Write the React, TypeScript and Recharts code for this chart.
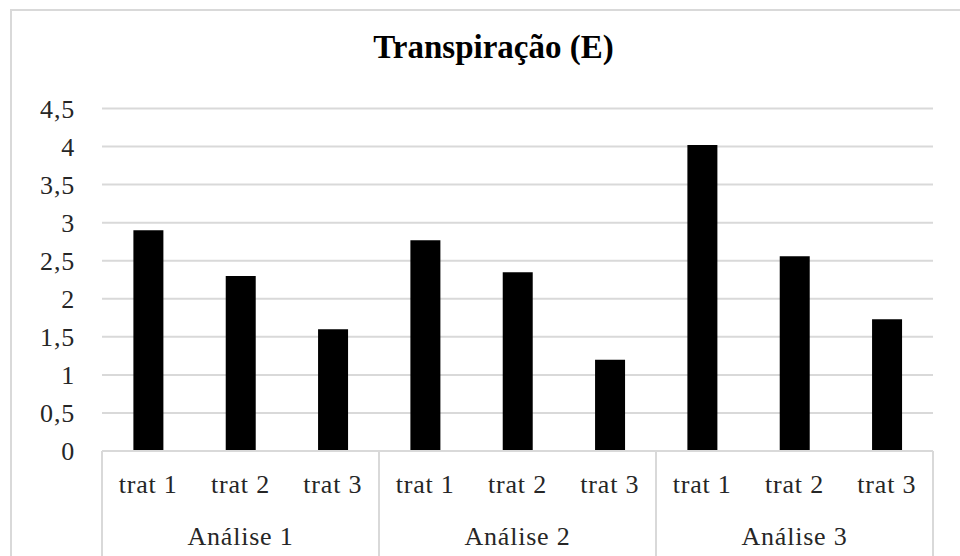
import { BarChart, Bar, XAxis, YAxis, CartesianGrid } from 'recharts'

// Transpiração (E) por tratamento e análise
const tratamentos = ['trat 1', 'trat 2', 'trat 3', 'trat 1', 'trat 2', 'trat 3', 'trat 1', 'trat 2', 'trat 3']
const analises = ['Análise 1', 'Análise 1', 'Análise 1', 'Análise 2', 'Análise 2', 'Análise 2', 'Análise 3', 'Análise 3', 'Análise 3']
const valores = [2.9, 2.3, 1.6, 2.77, 2.35, 1.2, 4.02, 2.56, 1.73]
const yTicks = [0, 0.5, 1, 1.5, 2, 2.5, 3, 3.5, 4, 4.5]

const data = tratamentos.map((t, i) => ({ trat: t, analise: analises[i], valor: valores[i] }))

const FONT = 'Times New Roman'
const GRID = '#d9d9d9'
const TXT = '#262626'

// tick com dois níveis: tratamento + análise, com separadores
function GroupTick({ x, y, width, index, visibleTicksCount, payload }: any) {
  const band = width / visibleTicksCount
  const pos = index % 3
  return (
    <g>
      <text x={x} y={y + 42} textAnchor="middle" fontSize={26} letterSpacing={0.8} fontFamily={FONT} fill={TXT}>
        {payload.value}
      </text>
      {pos === 0 && <line x1={x - band / 2} x2={x - band / 2} y1={y} y2={y + 110} stroke={GRID} strokeWidth={2} />}
      {pos === 1 && (
        <text x={x} y={y + 94} textAnchor="middle" fontSize={26} letterSpacing={0.8} fontFamily={FONT} fill={TXT}>
          {data[index].analise}
        </text>
      )}
      {index === visibleTicksCount - 1 && (
        <line x1={x + band / 2} x2={x + band / 2} y1={y} y2={y + 110} stroke={GRID} strokeWidth={2} />
      )}
    </g>
  )
}

export default function App() {
  return (
    <div style={{ position: 'absolute', left: 0, top: 0, width: 960, height: 556, fontFamily: FONT }}>
      <div style={{ position: 'absolute', left: 10, top: 9, width: 1000, height: 600, border: `2px solid ${GRID}` }} />
      <div style={{
        position: 'absolute', left: 0, top: 27, width: 987, textAlign: 'center', lineHeight: '40px',
        fontFamily: FONT, fontWeight: 700, fontSize: 33, color: '#000',
      }}>
        Transpiração (E)
      </div>
      <div style={{ position: 'absolute', left: 0, top: 0 }}>
        <BarChart width={960} height={556} data={data} margin={{ top: 108.5, right: 27, left: 0, bottom: 0 }} barCategoryGap="34%">
          <CartesianGrid vertical={false} stroke={GRID} strokeWidth={2} />
          <YAxis
            domain={[0, 4.5]}
            ticks={yTicks}
            width={102}
            axisLine={false}
            tickLine={false}
            tickSize={0}
            tickMargin={27}
            tickFormatter={v => String(v).replace('.', ',')}
            tick={{ fontSize: 26, fontFamily: FONT, fill: TXT, letterSpacing: 0.8 }}
          />
          <XAxis
            dataKey="trat"
            height={105}
            interval={0}
            axisLine={{ stroke: GRID, strokeWidth: 2 }}
            tickLine={false}
            tickSize={0}
            tickMargin={0}
            tick={<GroupTick />}
          />
          <Bar dataKey="valor" fill="#000" isAnimationActive={false} />
        </BarChart>
      </div>
    </div>
  )
}
